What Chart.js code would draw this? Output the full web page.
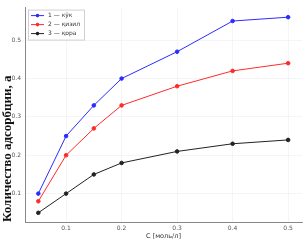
<!DOCTYPE html>
<html>
<head>
<meta charset="utf-8">
<script src="https://cdn.jsdelivr.net/npm/chart.js@4"></script>
<style>
  html, body { margin: 0; padding: 0; background: #fff; }
</style>
</head>
<body>
<canvas id="adsChart" width="306" height="245"></canvas>
<script>
// concentration values and series
const concentrations = [0.05, 0.1, 0.15, 0.2, 0.3, 0.4, 0.5];
const seriesBlue = [0.10, 0.25, 0.33, 0.40, 0.47, 0.55, 0.56];
const seriesRed = [0.08, 0.20, 0.27, 0.33, 0.38, 0.42, 0.44];
const seriesBlack = [0.05, 0.10, 0.15, 0.18, 0.21, 0.23, 0.24];
const seriesLabels = ['1 — кўк', '2 — қизил', '3 — қора'];
const xTicks = [0.1, 0.2, 0.3, 0.4, 0.5];
const yTicks = [0.1, 0.2, 0.3, 0.4, 0.5];

const colors = ['#2b2bff', '#ff2b2b', '#222222'];

function toPoints(values) {
    return concentrations.map((c, i) => ({ x: c, y: values[i] }));
}

// legend drawn inside the plot area, top-left
const innerLegend = {
    id: 'innerLegend',
    afterDraw(chart) {
        const ctx = chart.ctx;
        const area = chart.chartArea;
        const x0 = area.left + 3, y0 = area.top + 2;
        const w = 56, h = 30;
        ctx.save();
        ctx.fillStyle = 'rgba(255,255,255,0.85)';
        ctx.strokeStyle = '#d0d0d0';
        ctx.lineWidth = 1;
        ctx.fillRect(x0, y0, w, h);
        ctx.strokeRect(x0 + 0.5, y0 + 0.5, w, h);
        ctx.font = '6px "DejaVu Sans"';
        ctx.textBaseline = 'middle';
        chart.data.datasets.forEach((ds, i) => {
            const y = y0 + 6 + i * 9;
            ctx.strokeStyle = ds.borderColor;
            ctx.lineWidth = 1;
            ctx.beginPath();
            ctx.moveTo(x0 + 3, y);
            ctx.lineTo(x0 + 16, y);
            ctx.stroke();
            ctx.fillStyle = ds.borderColor;
            ctx.beginPath();
            ctx.arc(x0 + 9.5, y, 1.8, 0, Math.PI * 2);
            ctx.fill();
            ctx.fillStyle = '#333';
            ctx.fillText(ds.label, x0 + 20, y);
        });
        ctx.restore();
    }
};

const ctx = document.getElementById('adsChart').getContext('2d');
new Chart(ctx, {
    type: 'line',
    data: {
        datasets: [seriesBlue, seriesRed, seriesBlack].map((vals, i) => ({
            label: seriesLabels[i],
            data: toPoints(vals),
            borderColor: colors[i],
            backgroundColor: colors[i],
            borderWidth: 1,
            pointRadius: 1.8,
            pointHoverRadius: 1.8,
            tension: 0,
            fill: false
        }))
    },
    options: {
        responsive: false,
        animation: false,
        layout: { padding: { top: 4, right: 4, left: 0, bottom: 0 } },
        plugins: {
            legend: { display: false },
            tooltip: { enabled: false }
        },
        scales: {
            x: {
                type: 'linear',
                min: 0.026,
                max: 0.525,
                afterBuildTicks: (axis) => { axis.ticks = xTicks.map(v => ({ value: v })); },
                afterFit: (axis) => { axis.height = 23; },
                grid: { color: '#eeeeee', lineWidth: 0.6, drawTicks: false },
                border: { color: '#888', width: 1 },
                ticks: {
                    color: '#555',
                    font: { size: 6, family: 'DejaVu Sans' },
                    padding: 3,
                    maxRotation: 0,
                    callback: (v) => v.toFixed(1)
                },
                title: {
                    display: true,
                    text: 'С [моль/л]',
                    color: '#333',
                    font: { size: 6.5, family: 'DejaVu Sans' },
                    padding: { top: 0, bottom: 5 }
                }
            },
            y: {
                min: 0.026,
                max: 0.585,
                afterBuildTicks: (axis) => { axis.ticks = yTicks.map(v => ({ value: v })); },
                afterFit: (axis) => { axis.width = 25; },
                grid: { color: '#eeeeee', lineWidth: 0.6, drawTicks: false },
                border: { color: '#888', width: 1 },
                ticks: {
                    color: '#555',
                    font: { size: 6, family: 'DejaVu Sans' },
                    padding: 4,
                    callback: (v) => v.toFixed(1)
                },
                title: {
                    display: true,
                    align: 'start',
                    text: 'Количество адсорбции, а',
                    color: '#111',
                    font: { size: 13, family: 'Liberation Serif', weight: 'bold' },
                    padding: { top: 0, bottom: 0 }
                }
            }
        }
    },
    plugins: [innerLegend]
});
</script>
</body>
</html>
